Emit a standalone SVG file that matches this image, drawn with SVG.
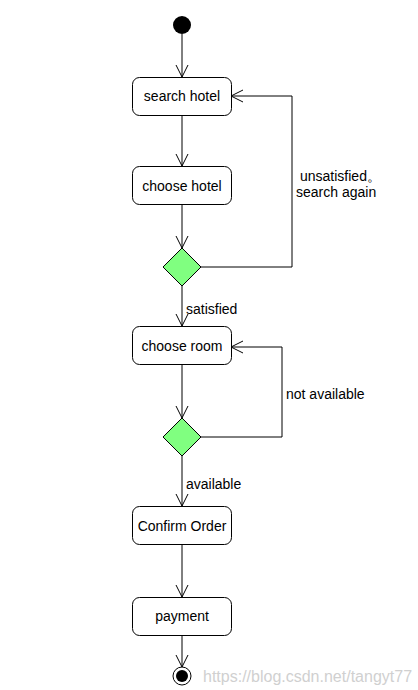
<svg xmlns="http://www.w3.org/2000/svg" width="418" height="690" viewBox="0 0 418 690">
<style>
.box{fill:#fff;stroke:#000;stroke-width:1}
.dia{fill:#80ff80;stroke:#000;stroke-width:1}
.t{font-family:"Liberation Sans",Arial,sans-serif;font-size:14px;fill:#000}
.c{text-anchor:middle}
.ln{fill:none;stroke:#000;stroke-width:1}
</style>
<defs>
<marker id="ar" markerWidth="14" markerHeight="14" refX="12" refY="6" orient="auto" markerUnits="userSpaceOnUse" viewBox="0 0 14 12">
<path d="M0,0 L12,6 L0,12" fill="none" stroke="#000" stroke-width="1"/>
</marker>
</defs>
<rect width="418" height="690" fill="#fff"/>
<g id="connectors">
<line class="ln" x1="182" y1="34" x2="182" y2="77" marker-end="url(#ar)"/>
<line class="ln" x1="182" y1="115" x2="182" y2="166" marker-end="url(#ar)"/>
<line class="ln" x1="182" y1="205" x2="182" y2="248" marker-end="url(#ar)"/>
<polyline class="ln" points="201,267 292,267 292,96 231,96" marker-end="url(#ar)"/>
<line class="ln" x1="182" y1="286" x2="182" y2="326" marker-end="url(#ar)"/>
<line class="ln" x1="182" y1="365" x2="182" y2="418" marker-end="url(#ar)"/>
<polyline class="ln" points="201,437 282,437 282,347 231,347" marker-end="url(#ar)"/>
<line class="ln" x1="182" y1="456" x2="182" y2="506" marker-end="url(#ar)"/>
<line class="ln" x1="182" y1="545" x2="182" y2="597" marker-end="url(#ar)"/>
<line class="ln" x1="182" y1="635" x2="182" y2="667" marker-end="url(#ar)"/>
<text class="t" x="300" y="181">unsatisfied。</text>
<text class="t" x="296" y="197">search again</text>
<text class="t" x="186" y="314">satisfied</text>
<text class="t" x="286" y="399">not available</text>
<text class="t" x="186" y="489">available</text>
</g>
<g id="start"><circle cx="182" cy="25" r="9" fill="#000"/></g>
<g id="search-hotel"><rect class="box" x="132.5" y="77.5" width="99" height="38" rx="7"/><text class="t c" x="182" y="101">search hotel</text></g>
<g id="choose-hotel"><rect class="box" x="132.5" y="166.5" width="99" height="38" rx="7"/><text class="t c" x="182" y="191">choose hotel</text></g>
<g id="decision1"><polygon class="dia" points="182,248 201,267 182,286 163,267"/></g>
<g id="choose-room"><rect class="box" x="132.5" y="326.5" width="99" height="38" rx="7"/><text class="t c" x="182" y="351">choose room</text></g>
<g id="decision2"><polygon class="dia" points="182,418 201,437 182,456 163,437"/></g>
<g id="confirm-order"><rect class="box" x="132.5" y="506.5" width="99" height="38" rx="7"/><text class="t c" x="182" y="531">Confirm Order</text></g>
<g id="payment"><rect class="box" x="132.5" y="597.5" width="99" height="38" rx="7"/><text class="t c" x="182" y="621">payment</text></g>
<g id="end"><circle cx="182" cy="676" r="9" fill="#fff" stroke="#000" stroke-width="1"/><circle cx="182" cy="676" r="6" fill="#000"/></g>
<text x="203" y="682" font-family="Liberation Sans,Arial,sans-serif" font-size="16" fill="#d0d0d0">https://blog.csdn.net/tangyt77</text>
</svg>
